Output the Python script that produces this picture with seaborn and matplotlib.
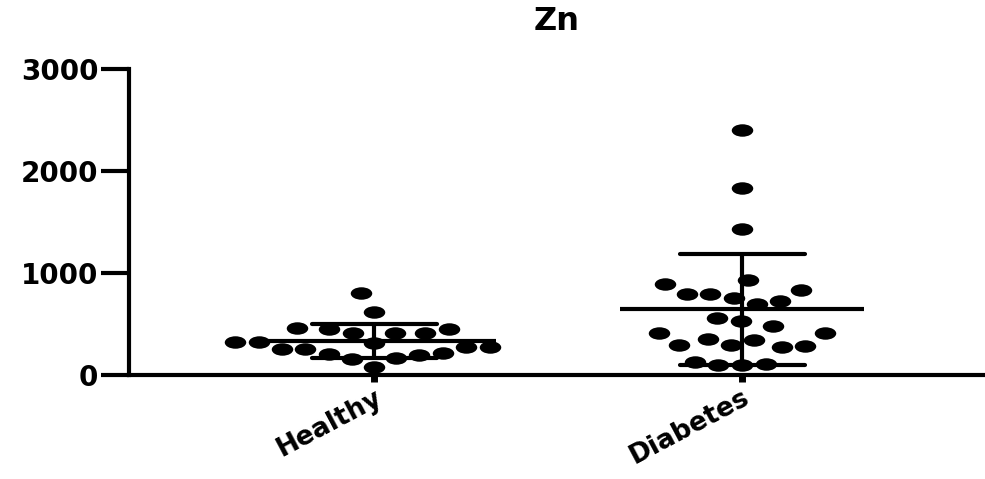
from matplotlib import pyplot as plt
from matplotlib.path import Path
import numpy as np
import pandas as pd
import seaborn as sns

groups = ['Healthy', 'Diabetes']
healthy = [801, 616, 410, 410, 450, 450, 460, 410, 323, 274, 274, 313, 323,
           254, 205, 166, 156, 195, 215, 254, 78]
diabetes = [2405, 1838, 1427, 831, 890, 929, 792, 723, 694, 753, 792, 557, 479,
            528, 411, 411, 342, 274, 293, 283, 293, 352, 108, 98, 98, 127]
yticks = [0, 1000, 2000, 3000]

df = pd.DataFrame({
    'group': [groups[0]] * len(healthy) + [groups[1]] * len(diabetes),
    'value': healthy + diabetes,
})

sns.set_style('ticks', {'axes.edgecolor': 'black', 'text.color': 'black',
                        'xtick.color': 'black', 'ytick.color': 'black'})
plt.rcParams['font.family'] = ['DejaVu Sans']
plt.rcParams['font.weight'] = 'bold'

# wide dots, padded a little so the swarm keeps a gap between them
circ = Path.unit_circle()
verts = np.vstack([[[1, 0], [-1, 0]], circ.vertices * [0.95, 0.55]])
codes = np.concatenate([[Path.MOVETO, Path.MOVETO], circ.codes])
dot = Path(verts, codes)

fig = plt.figure(figsize=(9.85, 4.79), dpi=100)
ax = fig.add_axes([129/985, 1 - 375/479, 856/985, 306/479])

sns.swarmplot(data=df, x='group', y='value', order=groups, color='black',
              marker=dot, size=16.3, linewidth=0, ax=ax)
sns.pointplot(data=df, x='group', y='value', order=groups, errorbar='sd',
              capsize=0.34, color='black', markers='_', markersize=176,
              markeredgewidth=3, linestyles='none', err_kws={'linewidth': 3},
              ax=ax)

ax.set_xlim(-0.666, 1.66)
ax.set_ylim(0, 3000)
ax.set_yticks(yticks)
ax.set_xlabel('')
ax.set_ylabel('')
ax.set_title('Zn', fontsize=23, fontweight='bold', pad=28, color='black')
sns.despine(ax=ax)
for s in ['left', 'bottom']:
    ax.spines[s].set_linewidth(3)
    ax.spines[s].set_color('black')
ax.tick_params(axis='y', length=20, width=3, labelsize=20, pad=2,
               colors='black')
ax.tick_params(axis='x', length=5, width=5, labelsize=19, pad=2,
               colors='black')
plt.setp(ax.get_xticklabels(), rotation=28, ha='right', va='top',
         rotation_mode='anchor', fontweight='bold')
plt.setp(ax.get_yticklabels(), fontweight='bold')

fig.savefig('out.png', dpi=100)
